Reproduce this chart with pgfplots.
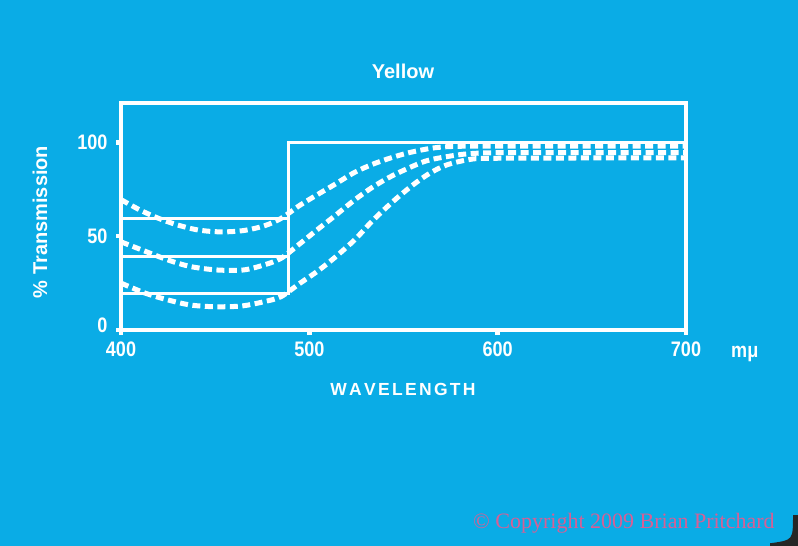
\documentclass[border=0pt]{standalone}
\usepackage{fontspec}
\setmainfont{Liberation Sans}
\newfontfamily\tickfontfam[FakeStretch=0.86]{Liberation Sans}
\newfontfamily\serifcr{Liberation Serif}
\newcommand\tickfont{\tickfontfam\bfseries\fontsize{21bp}{21bp}\selectfont}
\usepackage{pgfplots}
\pgfplotsset{compat=1.18}
\definecolor{bgblue}{RGB}{10,172,230}
\definecolor{crpink}{RGB}{214,96,150}
\newcommand\ls{\kern2.3bp}
\begin{document}
\begin{tikzpicture}
\fill[bgblue] (0,0) rectangle (798bp,-546bp);
\fill[black!85] (770bp,-546bp) -- (798bp,-546bp) -- (798bp,-515bp) -- (793bp,-515bp) .. controls (793bp,-540bp) .. (772bp,-543bp) -- (770bp,-543bp) -- cycle;
\begin{axis}[
  at={(121bp,-330bp)}, anchor=south west,
  scale only axis, width=565bp, height=227bp,
  xmin=400, xmax=700, ymin=0, ymax=121,
  axis line style={white, line width=4.5bp},
  tick style={white, line width=4.5bp},
  major tick length=5bp, tick align=outside,
  xtick pos=bottom, ytick pos=left,
  xtick={400,500,600,700}, xticklabels={400,500,600,700},
  ytick={0,50,100}, yticklabels={\raisebox{9bp}{0},50,100},
  ticklabel style={font=\tickfont, text=white},
  xticklabel style={yshift=-3bp},
  yticklabel style={xshift=-5bp},
  clip=false,
]
% solid step reference lines
\addplot[white, line width=3bp] coordinates {(400,59.5) (489,59.5)};
\addplot[white, line width=3bp] coordinates {(400,39) (489,39)};
\addplot[white, line width=3bp] coordinates {(400,19.5) (489,19.5) (489,100) (700,100)};
% dashed curves
\addplot[white, line width=5bp, dash pattern=on 8bp off 4.5bp, smooth] coordinates {
(400,69.5) (410,64) (420,59.5) (430,56) (441,53.3) (453,52.3) (465,53) (476,55.5)
(485,59.5) (495,66.5) (504,72) (513,77.3) (524,84) (534,88.5) (545,92.3) (555,95)
(568,97.3) (585,98) (640,98) (700,98)};
\addplot[white, line width=5bp, dash pattern=on 8bp off 4.5bp, smooth] coordinates {
(400,47) (411,42.7) (425,37.3) (437,33.8) (451,32) (465,32) (476,34.7) (485,38.2)
(495,46) (504,53.3) (513,60.4) (524,69.3) (534,76.4) (545,82.7) (561,89.8)
(573,92.4) (584,93.9) (600,94.5) (650,94.5) (700,94.5)};
\addplot[white, line width=5bp, dash pattern=on 8bp off 4.5bp, smooth] coordinates {
(400,25) (413,19.6) (425,16) (437,13.3) (450,12.4) (464,12.8) (476,15.1) (485,17.8)
(495,24.9) (504,31.1) (513,38.2) (524,48) (534,58.7) (545,69) (555,77.3) (564,83.6)
(573,88) (584,90.7) (595,91.5) (650,91.7) (700,91.7)};
\end{axis}
\node[anchor=base, text=white, font=\bfseries\fontsize{20bp}{20bp}\selectfont] at (403bp,-78bp) {Yellow};
\node[rotate=90, anchor=base, text=white, font=\bfseries\fontsize{20bp}{20bp}\selectfont] at (47bp,-222bp) {\% Transmission};
\node[anchor=base, text=white, font=\bfseries\fontsize{17.5bp}{17.5bp}\selectfont] at (403bp,-395bp) {W\ls A\ls V\ls E\ls L\ls E\ls N\ls G\ls T\ls H};
\node[anchor=base west, text=white, font=\tickfont, inner sep=0pt] at (731bp,-357bp) {mμ};
\node[anchor=base west, text=crpink, font=\serifcr\fontsize{22bp}{22bp}\selectfont, inner sep=0pt] at (473bp,-528bp) {© Copyright 2009 Brian Pritchard};
\end{tikzpicture}
\end{document}
